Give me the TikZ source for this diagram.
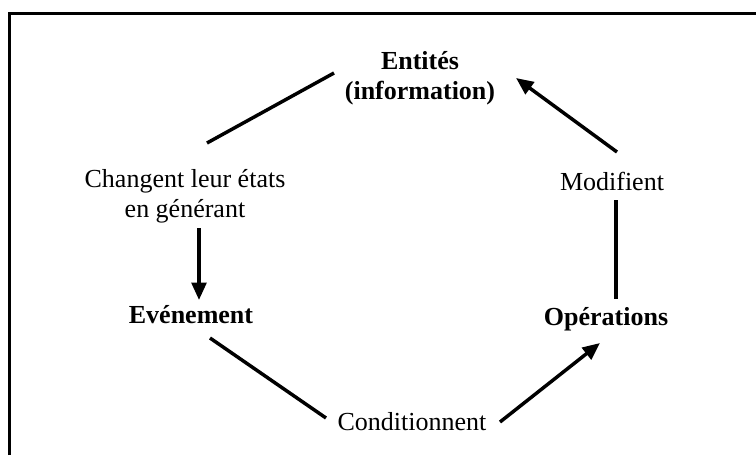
\documentclass[tikz,border=0pt]{standalone}
\usepackage{fontspec}
\setmainfont{Liberation Serif}
\usetikzlibrary{arrows.meta}
\begin{document}
\begin{tikzpicture}[x=0.75pt,y=-0.75pt,
  lbl/.style={font=\fontsize{19.5}{22}\selectfont, inner sep=0pt, align=center},
  blbl/.style={lbl, font=\fontsize{19.5}{22}\selectfont\bfseries},
  conn/.style={line width=2.6pt},
  arr/.style={conn, -{Triangle[length=13pt,width=11pt]}}]
\useasboundingbox (0,0) rectangle (756,455);
\draw[line width=1.9pt] (9.5,455) |- (756,13.5);

\node[blbl, anchor=base] (ent) at (420,99) {Entités\\(information)};
\node[lbl, anchor=base] (chg) at (185,217) {Changent leur états\\en générant};
\node[lbl, anchor=base] (mod) at (612,190) {Modifient};
\node[blbl, anchor=base] (evt) at (191,323) {Evénement};
\node[blbl, anchor=base] (ops) at (606,325) {Opérations};
\node[lbl, anchor=base] (cond) at (412,430) {Conditionnent};

\coordinate (a1) at (207,143);
\coordinate (a2) at (334,73);
\coordinate (b1) at (617,152);
\coordinate (b2) at (516,78);
\coordinate (c1) at (199,228);
\coordinate (c2) at (199,300);
\coordinate (d1) at (616,200);
\coordinate (d2) at (616,299);
\coordinate (e1) at (210,338);
\coordinate (e2) at (326,418);
\coordinate (f1) at (500,422);
\coordinate (f2) at (600,343);

\draw[conn] (a1) -- (a2);
\draw[arr] (b1) -- (b2);
\draw[arr] (c1) -- (c2);
\draw[conn] (d1) -- (d2);
\draw[conn] (e1) -- (e2);
\draw[arr] (f1) -- (f2);
\end{tikzpicture}
\end{document}
